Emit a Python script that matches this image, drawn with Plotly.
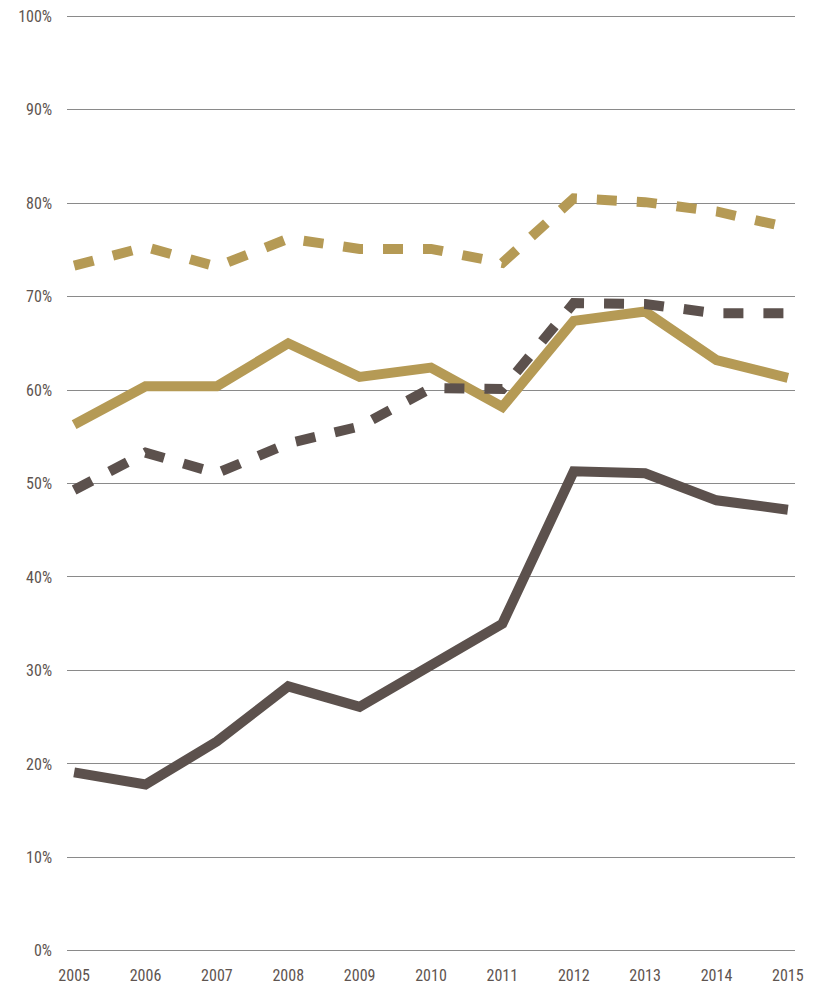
import plotly.graph_objects as go

years = [2005, 2006, 2007, 2008, 2009, 2010, 2011, 2012, 2013, 2014, 2015]
gold_solid = [56.3, 60.4, 60.4, 65.0, 61.4, 62.4, 58.2, 67.4, 68.4, 63.2, 61.3]
gold_dashed = [73.3, 75.3, 73.2, 76.2, 75.1, 75.1, 73.6, 80.5, 80.1, 79.1, 77.4]
dark_solid = [19.1, 17.8, 22.4, 28.3, 26.1, 30.6, 35.0, 51.3, 51.1, 48.2, 47.2]
dark_dashed = [49.3, 53.3, 51.1, 54.3, 56.1, 60.2, 60.1, 69.3, 69.2, 68.2, 68.2]
y_ticks = [0, 10, 20, 30, 40, 50, 60, 70, 80, 90, 100]
y_labels = [f"{v}%" for v in y_ticks]
x_labels = [str(y) for y in years]

GOLD = "#b59a55"
DARK = "#5c514d"
TEXT = "#5e5450"
FONT = "Liberation Sans Narrow, Arial Narrow, Roboto Condensed, Roboto, sans-serif"

fig = go.Figure()
fig.add_trace(go.Scatter(x=years, y=gold_solid, mode="lines",
                         line=dict(color=GOLD, width=10), showlegend=False))
fig.add_trace(go.Scatter(x=years, y=gold_dashed, mode="lines",
                         line=dict(color=GOLD, width=10, dash="20px,20px"), showlegend=False))
fig.add_trace(go.Scatter(x=years, y=dark_solid, mode="lines",
                         line=dict(color=DARK, width=10), showlegend=False))
fig.add_trace(go.Scatter(x=years, y=dark_dashed, mode="lines",
                         line=dict(color=DARK, width=10, dash="20px,20px"), showlegend=False))

fig.update_layout(
    width=817, height=987,
    margin=dict(l=67, r=22, t=15, b=35),
    paper_bgcolor="white", plot_bgcolor="white",
    font=dict(family=FONT, size=16, color=TEXT),
    xaxis=dict(range=[2004.9, 2015.1], tickmode="array", tickvals=years, ticktext=x_labels,
               showgrid=False, zeroline=False, showline=False, ticks="",
               ticklabelstandoff=12, automargin=False, fixedrange=True),
    yaxis=dict(range=[-0.12, 100.12], tickmode="array", tickvals=y_ticks, ticktext=y_labels,
               showgrid=True, gridcolor="#8a8a8a", gridwidth=1,
               zeroline=False, showline=False, ticks="",
               ticklabelstandoff=14, automargin=False, fixedrange=True),
)

fig.write_html("out.html", config={"displayModeBar": False},
               post_script="document.body.style.margin='0';document.body.style.overflow='hidden';")
